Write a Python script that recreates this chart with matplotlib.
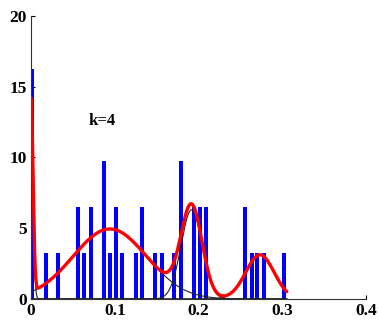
import numpy as np
import matplotlib
matplotlib.use("Agg")
import matplotlib.pyplot as plt

# Histogram bars (bin centres and density heights)
bar_x = [0.0015, 0.0175, 0.0325, 0.0565, 0.0635, 0.071, 0.087, 0.094, 0.1015, 0.109,
         0.125, 0.1325, 0.148, 0.156, 0.171, 0.1785, 0.194, 0.2015, 0.2085,
         0.2555, 0.263, 0.270, 0.278, 0.3015]
bar_h = [16.25, 3.25, 3.25, 6.5, 3.25, 6.5, 9.75, 3.25, 6.5, 3.25,
         3.25, 6.5, 3.25, 3.25, 3.25, 9.75, 6.5, 6.5, 6.5,
         6.5, 3.25, 3.25, 3.25, 3.25]

# Mixture components (k=4): centre, spread, peak height
comp_mu = [0.0, 0.094, 0.1915, 0.273]
comp_sd = [0.0024, 0.044, 0.0125, 0.0169]
comp_peak = [13.7, 4.95, 6.3, 3.12]

x_ticks = [0, 0.1, 0.2, 0.3, 0.4]
x_ticklabels = ["0", "0.1", "0.2", "0.3", "0.4"]
y_ticks = [0, 5, 10, 15, 20]
y_ticklabels = ["0", "5", "10", "15", "20"]

fig = plt.figure(figsize=(3.79, 3.25), dpi=100)
ax = fig.add_axes([0.0818, 0.08, 0.885, 0.871])

ax.bar(bar_x, bar_h, width=0.0048, color="#0000ff", zorder=2)

xs = np.linspace(0, 0.305, 800)
total = np.zeros_like(xs)
for mu, sd, pk in zip(comp_mu, comp_sd, comp_peak):
    c = pk * np.exp(-(xs - mu) ** 2 / (2 * sd ** 2))
    total += c
    ax.plot(xs, c, color="#222222", lw=0.8, zorder=3)
ax.plot(xs, total, color="#ff0000", lw=2.4, zorder=4, solid_capstyle="round")

ax.text(0.0847, 12.6, "k=4", fontsize=12, fontweight="bold", family="Liberation Serif",
        ha="center", va="center")

ax.set_xlim(0, 0.4)
ax.set_ylim(0, 20)
ax.set_xticks(x_ticks)
ax.set_xticklabels(x_ticklabels)
ax.set_yticks(y_ticks)
ax.set_yticklabels(y_ticklabels)
for lab in ax.get_xticklabels() + ax.get_yticklabels():
    lab.set_family("Liberation Serif")
    lab.set_fontweight("bold")
    lab.set_fontsize(12.5)
ax.tick_params(direction="in", length=3, width=0.8, pad=3)
ax.spines["top"].set_visible(False)
ax.spines["right"].set_visible(False)
ax.spines["left"].set_color("#333333")
ax.spines["bottom"].set_color("#333333")

fig.savefig("out.png", dpi=100)
